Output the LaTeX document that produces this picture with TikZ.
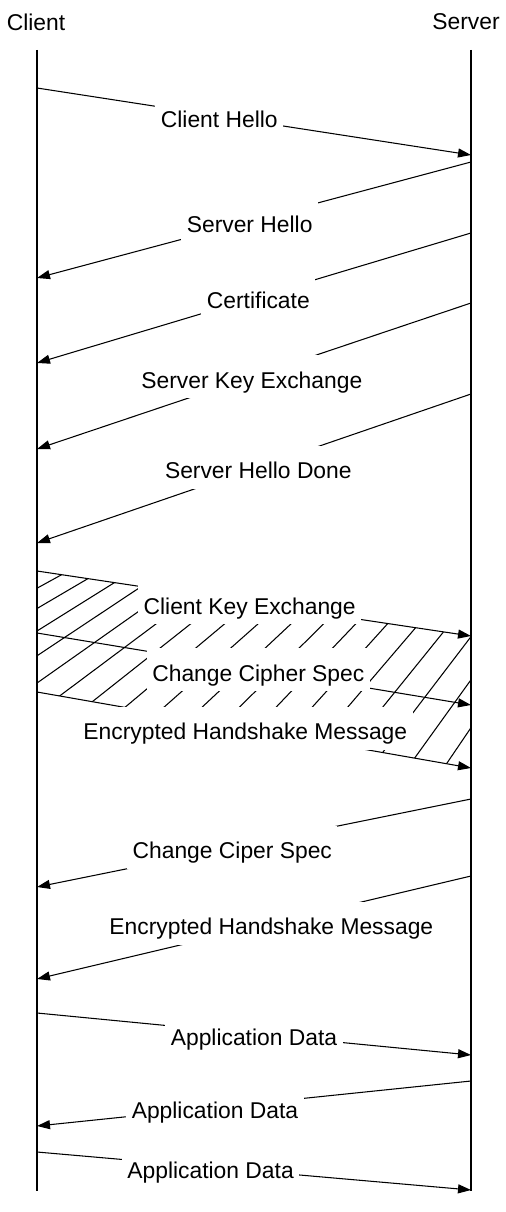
\documentclass[tikz,border=0pt]{standalone}
\usepackage{fontspec}
\setmainfont{Liberation Sans}
\usetikzlibrary{arrows.meta}

\tikzset{
  lifeline/.style={line width=0.6pt},
  msg/.style={line width=0.6pt,-{Triangle[length=0.26cm,width=0.18cm]}},
  msglabel/.style={fill=white,inner xsep=0.11cm,inner ysep=0pt,
    minimum height=0.86cm,text height=14pt,text depth=1pt},
  hatchline/.style={line width=0.6pt}
}

\begin{document}
\begin{tikzpicture}[x=0.02cm,y=-0.02cm,font=\fontsize{13}{15}\selectfont]
  \useasboundingbox (0,0) rectangle (505,1212);

  \node (client) at (36,22) {Client};
  \node (server) at (466,22) {Server};

  \coordinate (ctop) at (37,50);
  \coordinate (cbot) at (37,1191);
  \coordinate (stop) at (471,50);
  \coordinate (sbot) at (471,1191);

  % ends of the messages on the two lifelines
  \coordinate (c1) at (37,88);    \coordinate (s1) at (471,155);
  \coordinate (s2) at (471,162);  \coordinate (c2) at (37,278);
  \coordinate (s3) at (471,233);  \coordinate (c3) at (37,363);
  \coordinate (s4) at (471,303);  \coordinate (c4) at (37,449);
  \coordinate (s5) at (471,394);  \coordinate (c5) at (37,543);
  \coordinate (c6) at (37,571);   \coordinate (s6) at (471,636);
  \coordinate (c7) at (37,633);   \coordinate (s7) at (471,705);
  \coordinate (c8) at (37,692);   \coordinate (s8) at (471,768);
  \coordinate (s9) at (471,799);  \coordinate (c9) at (37,887);
  \coordinate (s10) at (471,876); \coordinate (c10) at (37,979);
  \coordinate (c11) at (37,1013); \coordinate (s11) at (471,1055);
  \coordinate (s12) at (471,1081);\coordinate (c12) at (37,1126);
  \coordinate (c13) at (37,1152); \coordinate (s13) at (471,1190);

  % hatched band of the client's finished messages
  \begin{scope}
    \clip (c6) -- (s6) -- (s8) -- (c8) -- cycle;
    \foreach \i in {-6,...,18} {
      \pgfmathsetmacro\xa{37+30*\i}
      \pgfmathsetmacro\ya{631+0.1624*(\xa-37)}
      \pgfmathsetmacro\ang{32+0.053*(\xa-37)}
      \draw [hatchline] (\xa,\ya) ++(180-\ang:200) -- ++(-\ang:400);
    }
  \end{scope}

  \draw [lifeline] (ctop) -- (cbot);
  \draw [lifeline] (stop) -- (sbot);

  \draw [msg] (c1) -- node [msglabel,pos=0.42] (m1) {Client Hello} (s1);
  \draw [msg] (s2) -- node [msglabel,pos=0.51] (m2) {Server Hello} (c2);
  \draw [msg] (s3) -- node [msglabel,pos=0.49] (m3) {Certificate} (c3);
  \draw [msg] (s4) -- node [msglabel,pos=0.505] (m4) {Server Key Exchange} (c4);
  \draw [msg] (s5) -- node [msglabel,pos=0.49] (m5) {Server Hello Done} (c5);
  \draw [msg] (c6) -- node [msglabel,pos=0.49] (m6) {Client Key Exchange} (s6);
  \draw [msg] (c7) -- node [msglabel,pos=0.51] (m7) {Change Cipher Spec} (s7);
  \draw [msg] (c8) -- node [msglabel,pos=0.48] (m8) {Encrypted Handshake Message} (s8);
  \draw [msg] (s9) -- node [msglabel,pos=0.55] (m9) {Change Ciper Spec} (c9);
  \draw [msg] (s10) -- node [msglabel,pos=0.46] (m10) {Encrypted Handshake Message} (c10);
  \draw [msg] (c11) -- node [msglabel,pos=0.50] (m11) {Application Data} (s11);
  \draw [msg] (s12) -- node [msglabel,pos=0.59] (m12) {Application Data} (c12);
  \draw [msg] (c13) -- node [msglabel,pos=0.40] (m13) {Application Data} (s13);
\end{tikzpicture}
\end{document}
